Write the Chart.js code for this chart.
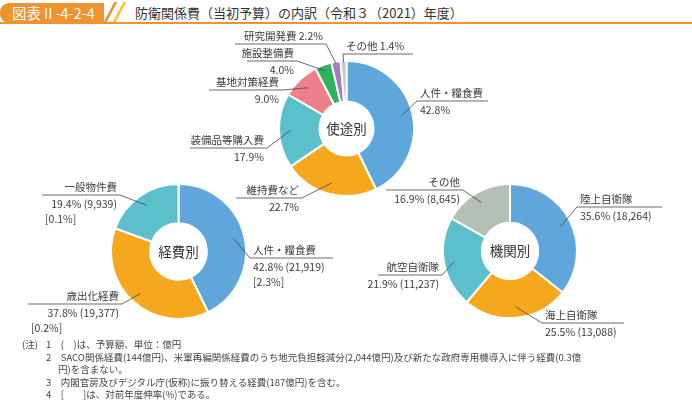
<!DOCTYPE html>
<html lang="ja">
<head>
<meta charset="utf-8">
<script src="https://cdn.jsdelivr.net/npm/chart.js"></script>
<style>
  body { margin: 0; background: #fff; font-family: "Noto Sans CJK JP", "Noto Sans", sans-serif; color: #333; }
  #wrap { position: relative; width: 692px; height: 400px; overflow: hidden; }
  #wrap canvas { position: absolute; left: 0; top: 0; }
  .tab { position: absolute; left: 0; top: 3px; width: 104px; height: 20px; background: #f0922e; border-radius: 9px 0 0 9px; color: #fff; font-size: 14.5px; line-height: 20px; padding-left: 12px; box-sizing: border-box; }
  .slash { position: absolute; top: 2px; width: 2.5px; height: 20px; transform: skewX(-28deg); }
  .rule { position: absolute; left: 0; top: 22px; width: 692px; height: 2px; background: #f0922e; }
  .title { position: absolute; left: 135px; top: 3px; font-size: 13px; line-height: 20px; color: #333; white-space: nowrap; }
  .note { position: absolute; font-size: 9.5px; line-height: 12px; color: #444; white-space: nowrap; }
</style>
</head>
<body>
<div id="wrap">
  <div class="tab">図表Ⅱ-4-2-4</div>
  <div class="slash" style="left:109px;background:#f0922e"></div>
  <div class="slash" style="left:118px;background:#f7c531"></div>
  <div class="rule"></div>
  <div class="title">防衛関係費（当初予算）の内訳（令和３（2021）年度）</div>

  <canvas id="usageChart" width="692" height="400"></canvas>
  <canvas id="costChart" width="692" height="400"></canvas>
  <canvas id="orgChart" width="692" height="400"></canvas>

  <div class="note" style="left:22px;top:338px">(注)</div>
  <div class="note" style="left:46px;top:338px">1　(　)は、予算額、単位：億円</div>
  <div class="note" style="left:46px;top:351px">2　SACO関係経費(144億円)、米軍再編関係経費のうち地元負担軽減分(2,044億円)及び新たな政府専用機導入に伴う経費(0.3億</div>
  <div class="note" style="left:58px;top:363px">円)を含まない。</div>
  <div class="note" style="left:46px;top:376px">3　内閣官房及びデジタル庁(仮称)に振り替える経費(187億円)を含む。</div>
  <div class="note" style="left:46px;top:388px">4　[　　]は、対前年度伸率(%)である。</div>
</div>

<script>
// 使途別
const usageLabels = ['人件・糧食費', '維持費など', '装備品等購入費', '基地対策経費', '施設整備費', '研究開発費', 'その他'];
const usageValues = [42.8, 22.7, 17.9, 9.0, 4.0, 2.2, 1.4];
const usageColors = ['#5ea6db', '#f5a81d', '#5bc0cc', '#ef8089', '#2db35c', '#a27bc3', '#c3cbc4'];

// 経費別
const costLabels = ['人件・糧食費', '歳出化経費', '一般物件費'];
const costValues = [42.8, 37.8, 19.4];
const costAmounts = ['21,919', '19,377', '9,939'];
const costGrowth = ['2.3%', '0.2%', '0.1%'];
const costColors = ['#5ea6db', '#f5a81d', '#5bc0cc'];

// 機関別
const orgLabels = ['陸上自衛隊', '海上自衛隊', '航空自衛隊', 'その他'];
const orgValues = [35.6, 25.5, 21.9, 16.9];
const orgAmounts = ['18,264', '13,088', '11,237', '8,645'];
const orgColors = ['#5ea6db', '#f5a81d', '#5bc0cc', '#b5bfb6'];

const pct = v => v.toFixed(1) + '%';

// leader-line labels + centre caption
const leaderLabels = {
  id: 'leaderLabels',
  afterDatasetsDraw(chart, args, opts) {
    const ctx = chart.ctx;
    const arcs = chart.getDatasetMeta(0).data;
    ctx.save();
    ctx.strokeStyle = '#444';
    ctx.lineWidth = 0.8;
    ctx.fillStyle = '#3a3a3a';
    ctx.font = '10.5px "Noto Sans CJK JP"';
    ctx.textBaseline = 'middle';
    opts.items.forEach((it, i) => {
      const p = arcs[i].getProps(['x', 'y', 'startAngle', 'endAngle', 'innerRadius', 'outerRadius']);
      const mid = (p.startAngle + p.endAngle) / 2;
      const r = p.innerRadius + (p.outerRadius - p.innerRadius) * (it.depth ?? 0.72);
      const px = p.x + Math.cos(mid) * r;
      const py = p.y + Math.sin(mid) * r;
      const ax = it.side === 'left' ? it.x2 : it.x1;
      ctx.beginPath();
      ctx.moveTo(it.x1, it.y);
      ctx.lineTo(it.x2, it.y);
      ctx.moveTo(ax, it.y);
      ctx.lineTo(px, py);
      ctx.stroke();

      const lines = opts.text(i);
      lines.forEach((t, k) => {
        const ty = k === 0 ? it.y - 7.5 : it.y + 9 + (k - 1) * 15;
        if (it.side === 'left' && k !== 2) {
          ctx.textAlign = 'right';
          ctx.fillText(t, it.x2 - 3, ty);
        } else {
          ctx.textAlign = 'left';
          ctx.fillText(t, it.x1 + 3, ty);
        }
      });
    });
    const a = arcs[0];
    ctx.font = '13.5px "Noto Sans CJK JP"';
    ctx.fillStyle = '#333';
    ctx.textAlign = 'center';
    ctx.fillText(opts.center, a.x, a.y);
    ctx.restore();
  }
};

function place(cx, cy, r) {
  return { left: cx - r - 1, right: 692 - cx - r - 1, top: cy - r - 1, bottom: 400 - cy - r - 1 };
}

function donut(id, labels, values, colors, cutout, padding, labelOpts) {
  return new Chart(document.getElementById(id), {
    type: 'doughnut',
    data: {
      labels: labels,
      datasets: [{
        data: values,
        backgroundColor: colors,
        borderColor: '#fff',
        borderWidth: 2
      }]
    },
    options: {
      responsive: false,
      animation: false,
      cutout: cutout,
      layout: { padding: padding },
      plugins: {
        legend: { display: false },
        tooltip: { enabled: false },
        leaderLabels: labelOpts
      }
    },
    plugins: [leaderLabels]
  });
}

donut('usageChart', usageLabels, usageValues, usageColors, '40%', place(346.5, 128.5, 67.5), {
  center: '使途別',
  items: [
    { side: 'right', x1: 417, x2: 488, y: 101 },
    { side: 'left', x1: 236, x2: 302, y: 198 },
    { side: 'left', x1: 190, x2: 267, y: 148 },
    { side: 'left', x1: 209, x2: 282, y: 90 },
    { side: 'left', x1: 247, x2: 297, y: 61, depth: 0.85 },
    { side: 'left', x1: 235, x2: 326, y: 44, depth: 0.95 },
    { side: 'right', x1: 343, x2: 413, y: 54, depth: 0.97 }
  ],
  text: i => i >= 5 ? [usageLabels[i] + ' ' + pct(usageValues[i])] : [usageLabels[i], pct(usageValues[i])]
});

donut('costChart', costLabels, costValues, costColors, '42%', place(178.5, 251.5, 67.5), {
  center: '経費別',
  items: [
    { side: 'right', x1: 250, x2: 333, y: 258 },
    { side: 'left', x1: 28, x2: 122, y: 304 },
    { side: 'left', x1: 42, x2: 120, y: 195 }
  ],
  text: i => [costLabels[i], pct(costValues[i]) + ' (' + costAmounts[i] + ')', '[' + costGrowth[i] + ']']
});

donut('orgChart', orgLabels, orgValues, orgColors, '42%', place(510, 251, 67), {
  center: '機関別',
  items: [
    { side: 'right', x1: 577, x2: 662, y: 207 },
    { side: 'right', x1: 542, x2: 624, y: 323 },
    { side: 'left', x1: 378, x2: 442, y: 275 },
    { side: 'left', x1: 386, x2: 463, y: 190 }
  ],
  text: i => [orgLabels[i], pct(orgValues[i]) + ' (' + orgAmounts[i] + ')']
});
</script>
</body>
</html>
